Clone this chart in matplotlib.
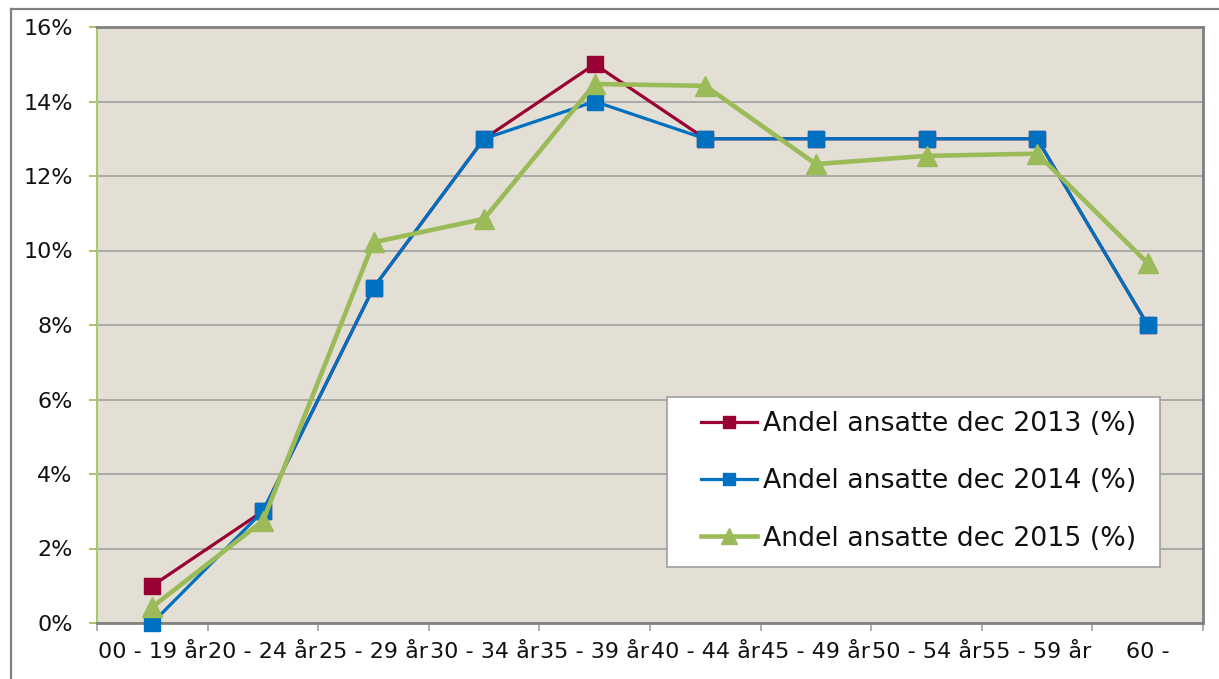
import matplotlib
matplotlib.use("Agg")
import matplotlib.pyplot as plt
from matplotlib.lines import Line2D
from matplotlib.patches import Rectangle
from matplotlib.ticker import FixedLocator, FuncFormatter

categories = ["00 - 19 år", "20 - 24 år", "25 - 29 år", "30 - 34 år", "35 - 39 år",
              "40 - 44 år", "45 - 49 år", "50 - 54 år", "55 - 59 år", "60 -"]
andel_2013 = [1, 3, 9, 13, 15, 13, 13, 13, 13, 8]
andel_2014 = [0, 3, 9, 13, 14, 13, 13, 13, 13, 8]
andel_2015 = [0.43, 2.74, 10.22, 10.85, 14.47, 14.42, 12.32, 12.54, 12.6, 9.66]
series_labels = ["Andel ansatte dec 2013 (%)", "Andel ansatte dec 2014 (%)",
                 "Andel ansatte dec 2015 (%)"]
y_ticks = [0, 2, 4, 6, 8, 10, 12, 14, 16]

plt.rcParams['font.family'] = ['DejaVu Sans']

fig = plt.figure(figsize=(12.19, 6.79), dpi=100)
W, H = 1219, 679
ax = fig.add_axes([97 / W, (H - 623) / H, (1203 - 97) / W, (623 - 27) / H])
ax.set_facecolor('#E3DFD5')

x = list(range(len(categories)))
ax.plot(x, andel_2013, color='#990033', lw=2.3, marker='s', ms=11,
        label=series_labels[0], clip_on=False, zorder=3)
ax.plot(x, andel_2014, color='#0070C0', lw=2.3, marker='s', ms=11,
        label=series_labels[1], clip_on=False, zorder=4)
ax.plot(x, andel_2015, color='#9BBB59', lw=3.3, marker='^', ms=14,
        label=series_labels[2], clip_on=False, zorder=5)

ax.set_xlim(-0.5, len(categories) - 0.5)
ax.set_ylim(0, 16)

# y axis
ax.set_yticks(y_ticks)
ax.yaxis.set_major_formatter(FuncFormatter(lambda v, p: f"{v:.0f}%"))
ax.tick_params(axis='y', direction='out', length=6, width=1.2, color='#9BBB59',
               pad=11.5, labelsize=16, labelcolor='#111111')
ax.grid(axis='y', color='#A0A0A0', lw=1.2, zorder=1)
ax.set_axisbelow(True)

# x axis: boundary ticks, labels centered on categories
ax.xaxis.set_major_locator(FixedLocator([i - 0.5 for i in range(len(categories) + 1)]))
ax.xaxis.set_major_formatter(FuncFormatter(lambda v, p: ""))
ax.xaxis.set_minor_locator(FixedLocator(x))
ax.set_xticklabels(categories, minor=True)
ax.tick_params(axis='x', which='major', direction='out', length=6, width=1.2,
               color='#A0A0A0')
ax.tick_params(axis='x', which='minor', length=0, pad=14, labelsize=16,
               labelcolor='#111111')

for side in ['top', 'right', 'bottom']:
    ax.spines[side].set_color('#808080')
    ax.spines[side].set_linewidth(2.0)
ax.spines['left'].set_color('#A8C870')
ax.spines['left'].set_linewidth(1.5)

# legend frame
ax.add_patch(Rectangle(((667 - 97) / 1106, (623 - 567) / 596),
                       (1160 - 667) / 1106, (567 - 397) / 596,
                       transform=ax.transAxes, facecolor='white', edgecolor='#A0A0A0',
                       lw=1.2, zorder=10, clip_on=False))
leg = ax.legend(loc='center left', bbox_to_anchor=((701 - 97) / 1106, (623 - 481.5) / 596),
                borderaxespad=0, borderpad=0, fontsize=19.3, frameon=False,
                labelspacing=1.16, handlelength=2.1, handletextpad=0.2,
                markerscale=0.85)
leg.set_zorder(11)
for t in leg.get_texts():
    t.set_color('#111111')

# outer frame lines of the figure (partial border)
fig.add_artist(Line2D([11 / W, 11 / W], [0, (H - 9) / H], color='#808080', lw=1.6,
                      transform=fig.transFigure))
fig.add_artist(Line2D([11 / W, 1], [(H - 9) / H, (H - 9) / H], color='#808080', lw=1.6,
                      transform=fig.transFigure))

fig.savefig("out.png", dpi=100, facecolor='white')
